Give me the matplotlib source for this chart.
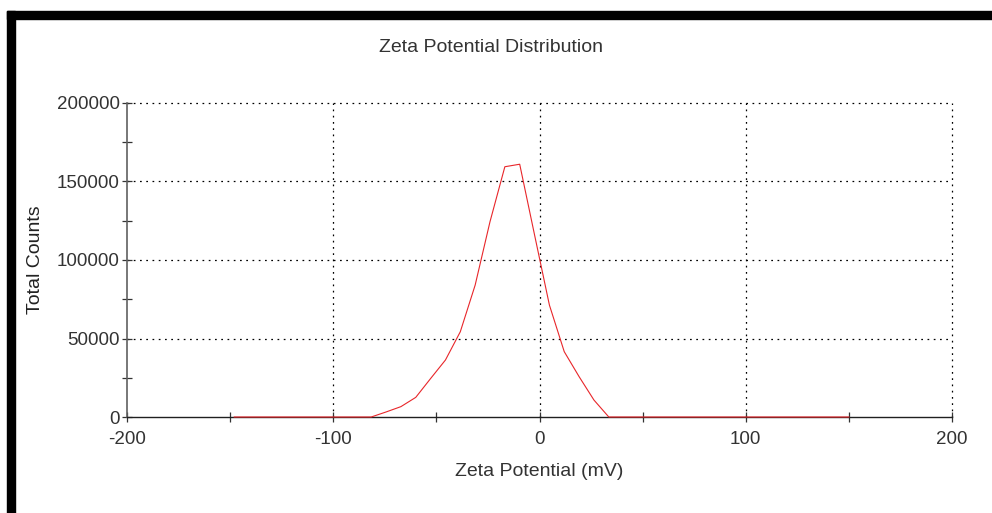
import matplotlib
matplotlib.use('Agg')

import matplotlib.pyplot as plt
from matplotlib.patches import Rectangle
from matplotlib.ticker import MultipleLocator

plt.rcParams['font.family'] = ['Liberation Sans', 'DejaVu Sans']
plt.rcParams['axes.unicode_minus'] = False

# zeta potential (mV) vs total counts
zeta = [-148, -81.6, -74.4, -67.2, -60.0, -52.8, -45.6, -38.4, -31.2, -24.0,
        -16.8, -9.6, -2.4, 4.8, 12.0, 19.2, 26.4, 33.6, 150]
counts = [0, 0, 3200, 6600, 12500, 24500, 36300, 54300, 84000, 124400,
          159400, 161000, 116000, 71300, 41600, 25700, 10800, 0, 0]

x_ticks = [-200, -100, 0, 100, 200]
y_ticks = [0, 50000, 100000, 150000, 200000]

W, H = 992, 513
fig = plt.figure(figsize=(W / 100, H / 100), dpi=100)
ax = fig.add_axes([127 / W, 1 - 417 / H, 825 / W, 314 / H])

ax.plot(zeta, counts, '-', color='#e8262a', lw=0.8, zorder=5, clip_on=False)

ax.set_xlim(-200, 200)
ax.set_ylim(0, 200000)
ax.set_xticks(x_ticks)
ax.set_yticks(y_ticks)
ax.xaxis.set_minor_locator(MultipleLocator(50))
ax.yaxis.set_minor_locator(MultipleLocator(25000))

for s in ['top', 'right']:
    ax.spines[s].set_visible(False)
ax.spines['left'].set_color('#606060')
ax.spines['left'].set_linewidth(1.2)
ax.spines['bottom'].set_color('#202020')
ax.spines['bottom'].set_linewidth(1.0)

ax.tick_params(which='both', direction='inout', length=6.5, width=0.9,
               colors='#333333', labelsize=13.5)
ax.tick_params(axis='x', pad=7)
ax.tick_params(axis='y', pad=2)

# dotted grid, skipping the lines on the axes themselves
dots = (0, (1.4, 3.6))
for gx in x_ticks[1:]:
    ax.axvline(gx, color='black', lw=0.9, ls=dots, zorder=1, clip_on=False)
for gy in y_ticks[1:]:
    ax.axhline(gy, color='black', lw=0.9, ls=dots, zorder=1, clip_on=False)

fig.text(491 / W, 1 - 47.5 / H, 'Zeta Potential Distribution', ha='center',
         va='center', fontsize=14, color='#333333')
fig.text(539.5 / W, 1 - 472 / H, 'Zeta Potential (mV)', ha='center',
         va='center', fontsize=14, color='#333333')
fig.text(35 / W, 1 - 260 / H, 'Total Counts', ha='center', va='center',
         rotation=90, fontsize=14, color='#222222')

# black frame around the screenshot (top and left edge)
fig.patches.append(Rectangle((7 / W, 1 - 19 / H), 1 - 7 / W, 8 / H,
                             transform=fig.transFigure, color='black'))
fig.patches.append(Rectangle((7 / W, 0), 8 / W, 1 - 11 / H,
                             transform=fig.transFigure, color='black'))

plt.savefig('out.png', dpi=100)
